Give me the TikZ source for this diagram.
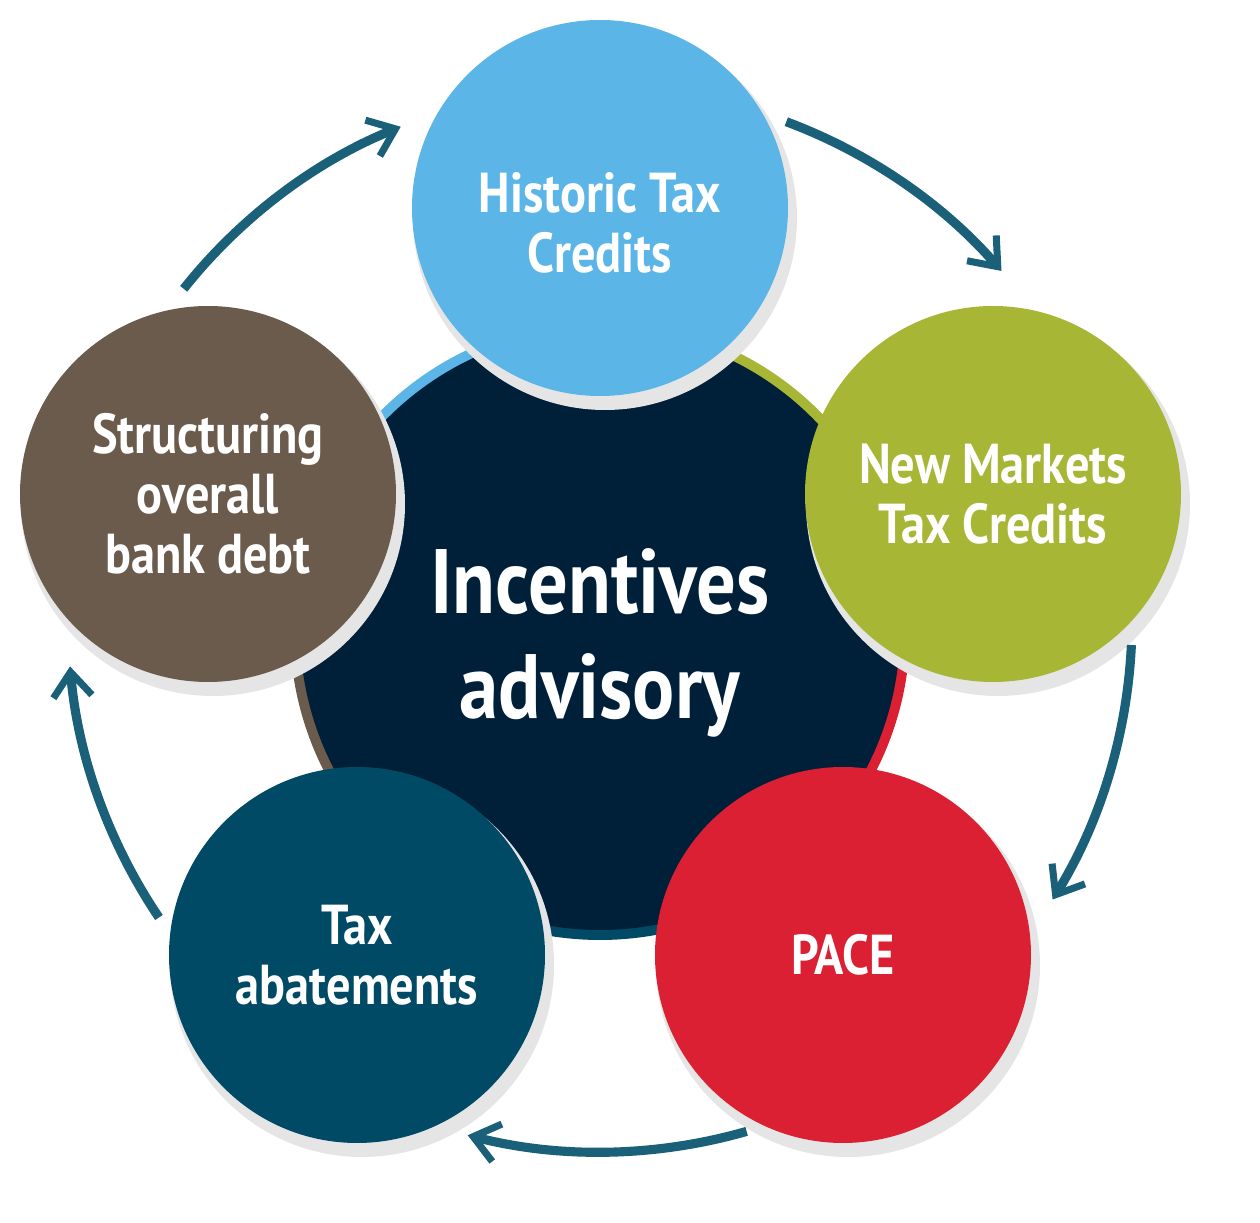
\documentclass[tikz,border=0pt]{standalone}
\usepackage{fontspec}
\setmainfont[FakeStretch=0.86]{PT Sans}
\usetikzlibrary{arrows.meta}
\definecolor{cblue}{HTML}{5BB5E6}
\definecolor{colive}{HTML}{A8B636}
\definecolor{cred}{HTML}{DA2032}
\definecolor{cteal}{HTML}{004A66}
\definecolor{cbrown}{HTML}{6B5B4D}
\definecolor{cnavy}{HTML}{001F38}
\definecolor{carrow}{HTML}{1A6079}
\tikzset{
  bub/.style={circle,minimum size=3.76cm,inner sep=0pt,text=white,align=center,font=\bfseries\fontsize{16}{17}\selectfont},
  lbl/.style={text=white,align=center,font=\bfseries\fontsize{16}{17}\selectfont},
  cyc/.style={line width=2.6pt,draw=carrow,-{Straight Barb[length=7pt,width=11pt,line width=2pt]}}
}
\begin{document}
\begin{tikzpicture}
\useasboundingbox (0,0) rectangle (12.6,12.23);
\coordinate (c) at (6,5.93);
\foreach \a/\col in {90/cblue,18/colive,-54/cred,-126/cteal,-198/cbrown}
  \fill[\col] (c) -- ++(\a:3.1) arc[start angle=\a,delta angle=72,radius=3.1] -- cycle;
\node[circle,fill=cnavy,minimum size=6cm,inner sep=0pt] (ctr) at (c) {};
\node[text=white,align=center,font=\bfseries\fontsize{26}{30}\selectfont] (ctrt) at (6,5.8) {Incentives\\advisory};
\foreach \p in {(6.05,10.05),(9.98,7.19),(8.48,2.58),(3.62,2.58),(2.13,7.19)}
  \fill[black!10] \p circle (1.92);
\node[bub,fill=cblue] (h) at (6,10.15) {};
\node[lbl] (ht) at (6,10.0) {Historic Tax\\Credits};
\node[bub,fill=colive] (n) at (9.93,7.29) {New Markets\\Tax Credits};
\node[bub,fill=cred] (p) at (8.43,2.68) {PACE};
\node[bub,fill=cteal] (t) at (3.57,2.68) {Tax\\abatements};
\node[bub,fill=cbrown] (s) at (2.08,7.29) {Structuring\\overall\\bank debt};
\coordinate (o) at (6,6.03);
\draw[cyc] ([shift={(141.5:5.32)}]o) arc[start angle=141.5,end angle=112,radius=5.32];
\draw[cyc] ([shift={(69.5:5.32)}]o) arc[start angle=69.5,end angle=41,radius=5.32];
\draw[cyc] ([shift={(-2.7:5.32)}]o) arc[start angle=-2.7,end angle=-31.7,radius=5.32];
\draw[cyc] ([shift={(-74:5.32)}]o) arc[start angle=-74,end angle=-104.4,radius=5.32];
\draw[cyc] ([shift={(-146:5.32)}]o) arc[start angle=-146,end angle=-175,radius=5.32];
\end{tikzpicture}
\end{document}
